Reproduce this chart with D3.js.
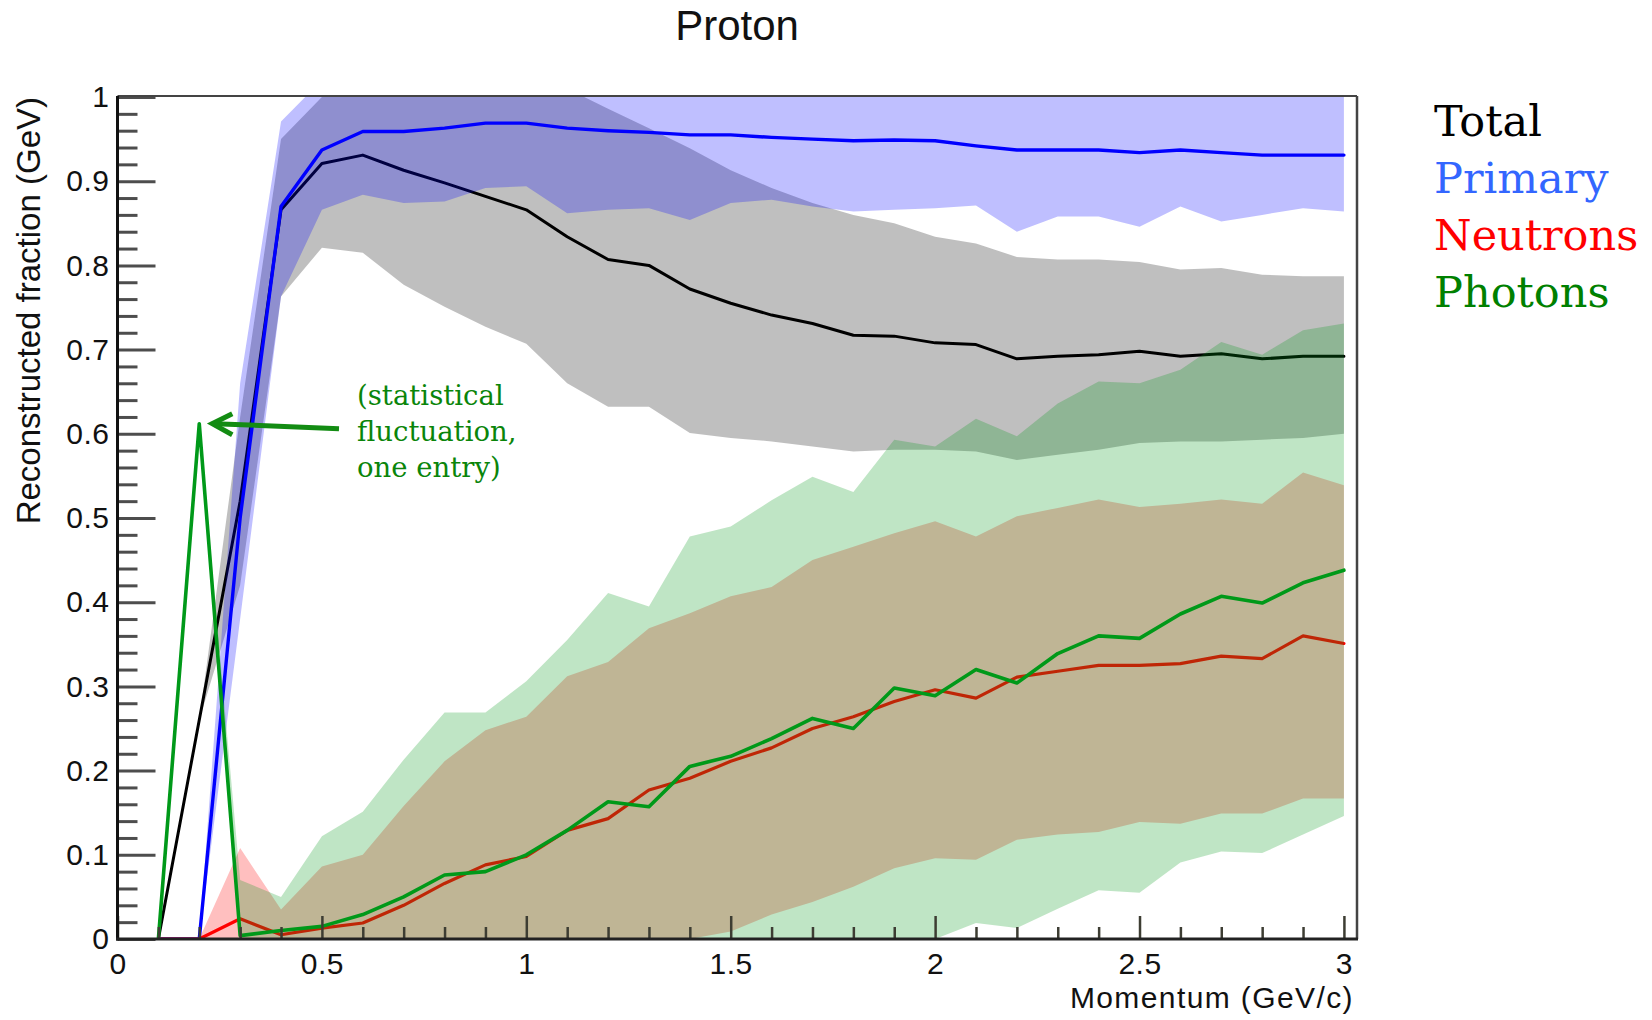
<!DOCTYPE html>
<html>
<head>
<meta charset="utf-8">
<script src="https://cdn.jsdelivr.net/npm/d3@7"></script>
<style>
  html, body { margin: 0; padding: 0; background: #fff; }
  svg { display: block; }
</style>
</head>
<body>
<svg id="chart" width="1652" height="1020"></svg>
<script>
// Momentum bins (GeV/c)
const momentum = [0.1, 0.2, 0.3, 0.4, 0.5, 0.6, 0.7, 0.8, 0.9, 1.0,
                  1.1, 1.2, 1.3, 1.4, 1.5, 1.6, 1.7, 1.8, 1.9, 2.0,
                  2.1, 2.2, 2.3, 2.4, 2.5, 2.6, 2.7, 2.8, 2.9, 3.0];

// Total reconstructed fraction: mean and band edges
const totalMean = [0, 0.26, 0.52, 0.866, 0.921, 0.931, 0.913, 0.898, 0.882, 0.866,
                   0.834, 0.807, 0.800, 0.772, 0.755, 0.741, 0.731, 0.717, 0.716, 0.708,
                   0.706, 0.689, 0.692, 0.694, 0.698, 0.692, 0.695, 0.689, 0.692, 0.692];
const totalLow  = [0, 0.26, 0.42, 0.763, 0.821, 0.815, 0.777, 0.751, 0.727, 0.707,
                   0.660, 0.632, 0.632, 0.601, 0.595, 0.591, 0.585, 0.579, 0.581, 0.581,
                   0.579, 0.569, 0.575, 0.581, 0.589, 0.591, 0.591, 0.593, 0.595, 0.600];
const totalHigh = [0, 0.26, 0.62, 0.95, 1.0, 1.0, 1.0, 1.0, 1.0, 1.0,
                   1.01, 0.986, 0.963, 0.939, 0.913, 0.892, 0.874, 0.860, 0.850, 0.834,
                   0.826, 0.810, 0.807, 0.807, 0.804, 0.795, 0.797, 0.789, 0.787, 0.787];

// Primary particle
const primaryMean = [0, 0, 0.50, 0.870, 0.937, 0.959, 0.959, 0.963, 0.969, 0.969,
                     0.963, 0.960, 0.958, 0.955, 0.955, 0.952, 0.950, 0.948, 0.949, 0.948,
                     0.942, 0.937, 0.937, 0.937, 0.934, 0.937, 0.934, 0.931, 0.931, 0.931];
const primaryLow  = [0, 0, 0.38, 0.763, 0.866, 0.884, 0.874, 0.876, 0.892, 0.894,
                     0.862, 0.866, 0.868, 0.854, 0.874, 0.878, 0.870, 0.864, 0.866, 0.868,
                     0.871, 0.840, 0.858, 0.858, 0.846, 0.870, 0.852, 0.860, 0.868, 0.864];
const primaryHigh = [0, 0, 0.66, 0.971, 1.02, 1.0, 1.0, 1.0, 1.0, 1.0,
                     1.0, 1.0, 1.0, 1.0, 1.0, 1.0, 1.0, 1.0, 1.0, 1.0,
                     1.0, 1.0, 1.0, 1.0, 1.0, 1.0, 1.0, 1.0, 1.0, 1.0];

// Neutrons
const neutronMean = [0, 0, 0.024, 0.005, 0.013, 0.019, 0.040, 0.066, 0.088, 0.098,
                     0.129, 0.143, 0.177, 0.191, 0.211, 0.227, 0.250, 0.264, 0.282, 0.296,
                     0.286, 0.311, 0.318, 0.325, 0.325, 0.327, 0.336, 0.333, 0.360, 0.351];
const neutronLow  = [0, 0, 0, 0, 0, 0, 0, 0, 0, 0,
                     0, 0, 0, 0, 0.009, 0.029, 0.044, 0.062, 0.084, 0.096,
                     0.094, 0.118, 0.124, 0.127, 0.139, 0.137, 0.149, 0.149, 0.167, 0.167];
const neutronHigh = [0, 0, 0.108, 0.035, 0.086, 0.100, 0.158, 0.211, 0.248, 0.264,
                     0.312, 0.329, 0.369, 0.387, 0.407, 0.418, 0.450, 0.466, 0.482, 0.496,
                     0.478, 0.502, 0.512, 0.522, 0.513, 0.517, 0.522, 0.517, 0.554, 0.539];

// Photons
const photonMean = [0, 0.612, 0.004, 0.010, 0.015, 0.029, 0.050, 0.076, 0.080, 0.100,
                    0.129, 0.163, 0.157, 0.205, 0.217, 0.238, 0.262, 0.250, 0.298, 0.289,
                    0.320, 0.304, 0.339, 0.360, 0.357, 0.386, 0.407, 0.399, 0.423, 0.438];
const photonLow  = [0, 0.612, 0, 0, 0, 0, 0, 0, 0, 0,
                    0, 0, 0, 0, 0, 0, 0, 0, 0, 0,
                    0.019, 0.013, 0.036, 0.058, 0.055, 0.091, 0.104, 0.102, 0.124, 0.146];
const photonHigh = [0, 0.612, 0.070, 0.050, 0.122, 0.151, 0.213, 0.269, 0.269, 0.306,
                    0.355, 0.411, 0.395, 0.478, 0.490, 0.521, 0.549, 0.531, 0.593, 0.585,
                    0.618, 0.597, 0.636, 0.662, 0.660, 0.676, 0.709, 0.694, 0.723, 0.731];

// Axis ticks and labels
const xMajorTicks = [0, 0.5, 1, 1.5, 2, 2.5, 3];
const xMinorTicks = [0.1, 0.2, 0.3, 0.4, 0.6, 0.7, 0.8, 0.9, 1.1, 1.2, 1.3, 1.4,
                     1.6, 1.7, 1.8, 1.9, 2.1, 2.2, 2.3, 2.4, 2.6, 2.7, 2.8, 2.9];
const yMajorTicks = [0, 0.1, 0.2, 0.3, 0.4, 0.5, 0.6, 0.7, 0.8, 0.9, 1];
const yMinorTicks = [0.02, 0.04, 0.06, 0.08, 0.12, 0.14, 0.16, 0.18, 0.22, 0.24, 0.26, 0.28,
                     0.32, 0.34, 0.36, 0.38, 0.42, 0.44, 0.46, 0.48, 0.52, 0.54, 0.56, 0.58,
                     0.62, 0.64, 0.66, 0.68, 0.72, 0.74, 0.76, 0.78, 0.82, 0.84, 0.86, 0.88,
                     0.92, 0.94, 0.96, 0.98];

const chartTitle = "Proton";
const xTitle = "Momentum (GeV/c)";
const yTitle = "Reconstructed fraction (GeV)";
const legendLabels = ["Total", "Primary", "Neutrons", "Photons"];
const legendColors = ["#000000", "#3366ff", "#ff0000", "#008000"];
const noteLines = ["(statistical", "fluctuation,", "one entry)"];

// ---- layout ----
const svg = d3.select("#chart");
const frame = { left: 117.5, right: 1357, top: 96, bottom: 939 };

const x = d3.scaleLinear().domain([0, 3.032]).range([frame.left, frame.right]);
const y = d3.scaleLinear().domain([0, 1]).range([939, 97]);

const SANS = "'Liberation Sans', Arial, Helvetica, sans-serif";
const SERIF = "'DejaVu Serif', Georgia, serif";

svg.append("defs").append("clipPath").attr("id", "plotClip")
  .append("rect")
  .attr("x", frame.left).attr("y", frame.top)
  .attr("width", frame.right - frame.left).attr("height", frame.bottom - frame.top);

const plot = svg.append("g").attr("clip-path", "url(#plotClip)");

function rows(mean, low, high) {
  return momentum.map((m, i) => ({ m, v: mean[i], lo: low[i], hi: high[i] }));
}

const series = [
  { data: rows(totalMean, totalLow, totalHigh),       color: "#000000", width: 3 },
  { data: rows(primaryMean, primaryLow, primaryHigh), color: "#0000ff", width: 3.4 },
  { data: rows(neutronMean, neutronLow, neutronHigh), color: "#ff0000", width: 3.2 },
  { data: rows(photonMean, photonLow, photonHigh),    color: "#009919", width: 3.6 }
];

const band = d3.area().x(d => x(d.m)).y0(d => y(d.lo)).y1(d => y(d.hi));
const line = d3.line().x(d => x(d.m)).y(d => y(d.v));

// each series: translucent band, then its central line
series.forEach(s => {
  plot.append("path")
    .attr("d", band(s.data))
    .attr("fill", s.color)
    .attr("fill-opacity", 0.25)
    .attr("stroke", "none");
  plot.append("path")
    .attr("d", line(s.data))
    .attr("fill", "none")
    .attr("stroke", s.color)
    .attr("stroke-width", s.width)
    .attr("stroke-linejoin", "round")
    .attr("stroke-linecap", "round");
});

// ---- axes ----
function styleAxis(g, color, width) {
  g.select(".domain").remove();
  g.selectAll(".tick line").attr("stroke", color).attr("stroke-width", width);
}

const yMajor = svg.append("g")
  .attr("transform", `translate(${frame.left},0)`)
  .call(d3.axisLeft(y).tickValues(yMajorTicks).tickSize(-38).tickPadding(8)
        .tickFormat(d3.format("~g")));
styleAxis(yMajor, "#4d4d4d", 3);
yMajor.selectAll("text")
  .attr("font-family", SANS).attr("font-size", 30).attr("fill", "#111")
  .attr("letter-spacing", "0.5px");

const yMinor = svg.append("g")
  .attr("transform", `translate(${frame.left},0)`)
  .call(d3.axisLeft(y).tickValues(yMinorTicks).tickSize(-20).tickFormat(""));
styleAxis(yMinor, "#4d4d4d", 3);

const xMajor = svg.append("g")
  .attr("transform", `translate(0,${frame.bottom})`)
  .call(d3.axisBottom(x).tickValues(xMajorTicks).tickSize(-23).tickPadding(14)
        .tickFormat(d3.format("~g")));
styleAxis(xMajor, "#3d3d33", 2.5);
xMajor.selectAll("text")
  .attr("font-family", SANS).attr("font-size", 30).attr("fill", "#111")
  .attr("letter-spacing", "0.5px");

const xMinor = svg.append("g")
  .attr("transform", `translate(0,${frame.bottom})`)
  .call(d3.axisBottom(x).tickValues(xMinorTicks).tickSize(-12).tickFormat(""));
styleAxis(xMinor, "#3d3d33", 2.5);

// frame
svg.append("line").attr("x1", frame.left).attr("x2", frame.right)
  .attr("y1", frame.top).attr("y2", frame.top)
  .attr("stroke", "#444").attr("stroke-width", 2);
svg.append("line").attr("x1", frame.right).attr("x2", frame.right)
  .attr("y1", frame.top).attr("y2", frame.bottom)
  .attr("stroke", "#444").attr("stroke-width", 2.5);
svg.append("line").attr("x1", frame.left).attr("x2", frame.left)
  .attr("y1", frame.top).attr("y2", frame.bottom + 1.5)
  .attr("stroke", "#111").attr("stroke-width", 3);
svg.append("line").attr("x1", frame.left - 1.5).attr("x2", frame.right + 1)
  .attr("y1", frame.bottom).attr("y2", frame.bottom)
  .attr("stroke", "#222").attr("stroke-width", 3);

// titles
svg.append("text")
  .attr("x", 737).attr("y", 40)
  .attr("text-anchor", "middle")
  .attr("font-family", SANS).attr("font-size", 42).attr("fill", "#111")
  .text(chartTitle);

svg.append("text")
  .attr("x", 1354).attr("y", 1008)
  .attr("text-anchor", "end")
  .attr("font-family", SANS).attr("font-size", 30).attr("fill", "#111")
  .attr("letter-spacing", "1.4px")
  .text(xTitle);

svg.append("text")
  .attr("transform", "translate(40,97) rotate(-90)")
  .attr("text-anchor", "end")
  .attr("font-family", SANS).attr("font-size", 33).attr("fill", "#111")
  .text(yTitle);

// legend (coloured labels)
legendLabels.forEach((label, i) => {
  svg.append("text")
    .attr("x", 1434).attr("y", 136 + i * 57)
    .attr("font-family", SERIF).attr("font-size", 43)
    .attr("fill", legendColors[i])
    .text(label);
});

// note pointing at the single-entry photon spike
const spikeIdx = 1;
const tipX = x(momentum[spikeIdx]) + 13;
const tipY = y(photonMean[spikeIdx]);
const arrow = svg.append("g")
  .attr("stroke", "#138c13").attr("stroke-width", 5)
  .attr("fill", "none").attr("stroke-linecap", "butt");
arrow.append("line")
  .attr("x1", 339).attr("y1", tipY + 5)
  .attr("x2", tipX + 2).attr("y2", tipY);
arrow.append("polyline")
  .attr("points", `${tipX + 20},${tipY - 10} ${tipX},${tipY} ${tipX + 20},${tipY + 11}`)
  .attr("stroke-linejoin", "miter");

noteLines.forEach((t, i) => {
  svg.append("text")
    .attr("x", 357).attr("y", 405 + i * 36)
    .attr("font-family", SERIF).attr("font-size", 27.5)
    .attr("fill", "#0a850a")
    .text(t);
});
</script>
</body>
</html>
